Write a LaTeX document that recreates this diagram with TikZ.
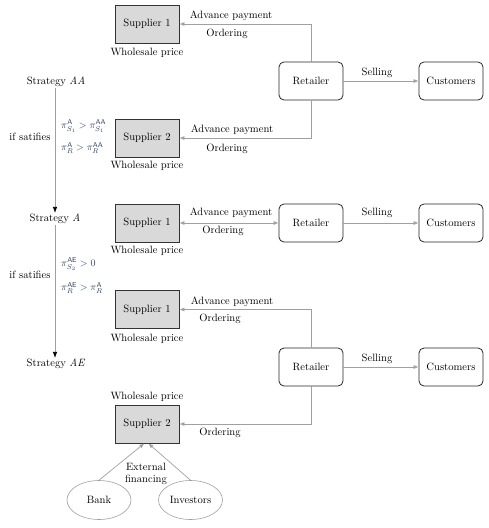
\documentclass[tikz,border=0pt]{standalone}
\usetikzlibrary{arrows.meta,shapes.geometric}
\definecolor{linegray}{RGB}{160,160,160}
\definecolor{boxfill}{RGB}{217,217,217}
\definecolor{mathblue}{RGB}{45,65,95}
\begin{document}
\begin{tikzpicture}[x=1pt,y=-1pt,
  every node/.style={font=\rmfamily\fontsize{10.6}{12.5}\selectfont, inner sep=1pt},
  supbox/.style={draw=black!80, fill=boxfill, line width=0.8pt, minimum width=64pt, minimum height=38pt},
  rbox/.style={draw=black!85, rounded corners=5pt, line width=0.8pt, minimum width=64pt, minimum height=38pt},
  oval/.style={ellipse, draw=linegray, line width=0.6pt, minimum width=64pt, minimum height=39pt},
  conn/.style={draw=linegray, line width=0.7pt},
  tip/.style={-{Latex[length=5pt,width=4pt]}},
  dtip/.style={{Latex[length=5pt,width=4pt]}-{Latex[length=5pt,width=4pt]}},
  stratarrow/.style={draw=linegray, line width=0.7pt, -{Latex[length=6pt,width=4.5pt,black]}},
  mth/.style={text=mathblue, inner sep=0pt, font=\fontsize{9.8}{11}\selectfont}]
\useasboundingbox (0,0) rectangle (489,528);

% ---- Strategy AA ----
\node[supbox] (S1a) at (147,24) {Supplier 1};
\node (W1a) at (147,53) {Wholesale price};
\node[rbox] (R1) at (311,81) {Retailer};
\node[rbox] (C1) at (451,81) {Customers};
\node[supbox] (S2a) at (147,138) {Supplier 2};
\node (W2a) at (147,166) {Wholesale price};
\draw[conn,tip] (R1.north) |- (S1a.east);
\draw[conn,tip] (R1.south) |- (S2a.east);
\draw[conn,tip] (R1.east) -- (C1.west);
\node (AP1) at (231,16) {Advance payment};
\node (O1) at (227,34) {Ordering};
\node (AP2) at (232,130) {Advance payment};
\node (O2) at (227,149) {Ordering};
\node (SE1) at (377,73) {Selling};

% ---- Strategy A ----
\node[supbox] (S1b) at (147,223) {Supplier 1};
\node (W1b) at (147,251) {Wholesale price};
\node[rbox] (R2) at (311,223) {Retailer};
\node[rbox] (C2) at (451,223) {Customers};
\draw[conn,dtip] (S1b.east) -- (R2.west);
\draw[conn,tip] (R2.east) -- (C2.west);
\node (AP3) at (231,213) {Advance payment};
\node (O3) at (223,231) {Ordering};
\node (SE2) at (377,213) {Selling};

% ---- Strategy AE ----
\node[supbox] (S1c) at (147,309.5) {Supplier 1};
\node (W1c) at (147,339) {Wholesale price};
\node[rbox] (R3) at (311,367) {Retailer};
\node[rbox] (C3) at (451,367) {Customers};
\node[supbox] (S2c) at (147,424) {Supplier 2};
\node (W2c) at (147,397) {Wholesale price};
\draw[conn,tip] (R3.north) |- (S1c.east);
\draw[conn,tip] (R3.south) |- (S2c.east);
\draw[conn,tip] (R3.east) -- (C3.west);
\node (AP4) at (232,302) {Advance payment};
\node (O4) at (220,319) {Ordering};
\node (O5) at (220,433) {Ordering};
\node (SE3) at (377,359) {Selling};

\node[oval] (B) at (99,500) {Bank};
\node[oval] (I) at (190.5,500) {Investors};
\draw[conn,tip] (B.north) -- (S2c.262);
\draw[conn,tip] (I.north) -- (S2c.274);
\node[align=center] (EF) at (146,474) {External\\financing};

% ---- Strategy chain ----
\node (SAA) at (56,82) {Strategy \textit{AA}};
\node (SA) at (55,219) {Strategy \textit{A}};
\node (SAE) at (56,364) {Strategy \textit{AE}};
\draw[stratarrow] (SAA.south -| SA.north) -- (SA.north);
\draw[stratarrow] (SA.south) -- (SAE.north -| SA.south);
\node (IF1) at (30,137) {if satifies};
\node (IF2) at (30,275) {if satifies};
\node[mth, anchor=west] (M1) at (61,126) {$\pi^{\mathsf{A}}_{S_1} > \pi^{\mathsf{AA}}_{S_1}$};
\node[mth, anchor=west] (M2) at (61,148) {$\pi^{\mathsf{A}}_{R} > \pi^{\mathsf{AA}}_{R}$};
\node[mth, anchor=west] (M3) at (61,264) {$\pi^{\mathsf{AE}}_{S_2} > 0$};
\node[mth, anchor=west] (M4) at (61,288) {$\pi^{\mathsf{AE}}_{R} > \pi^{\mathsf{A}}_{R}$};
\end{tikzpicture}
\end{document}
